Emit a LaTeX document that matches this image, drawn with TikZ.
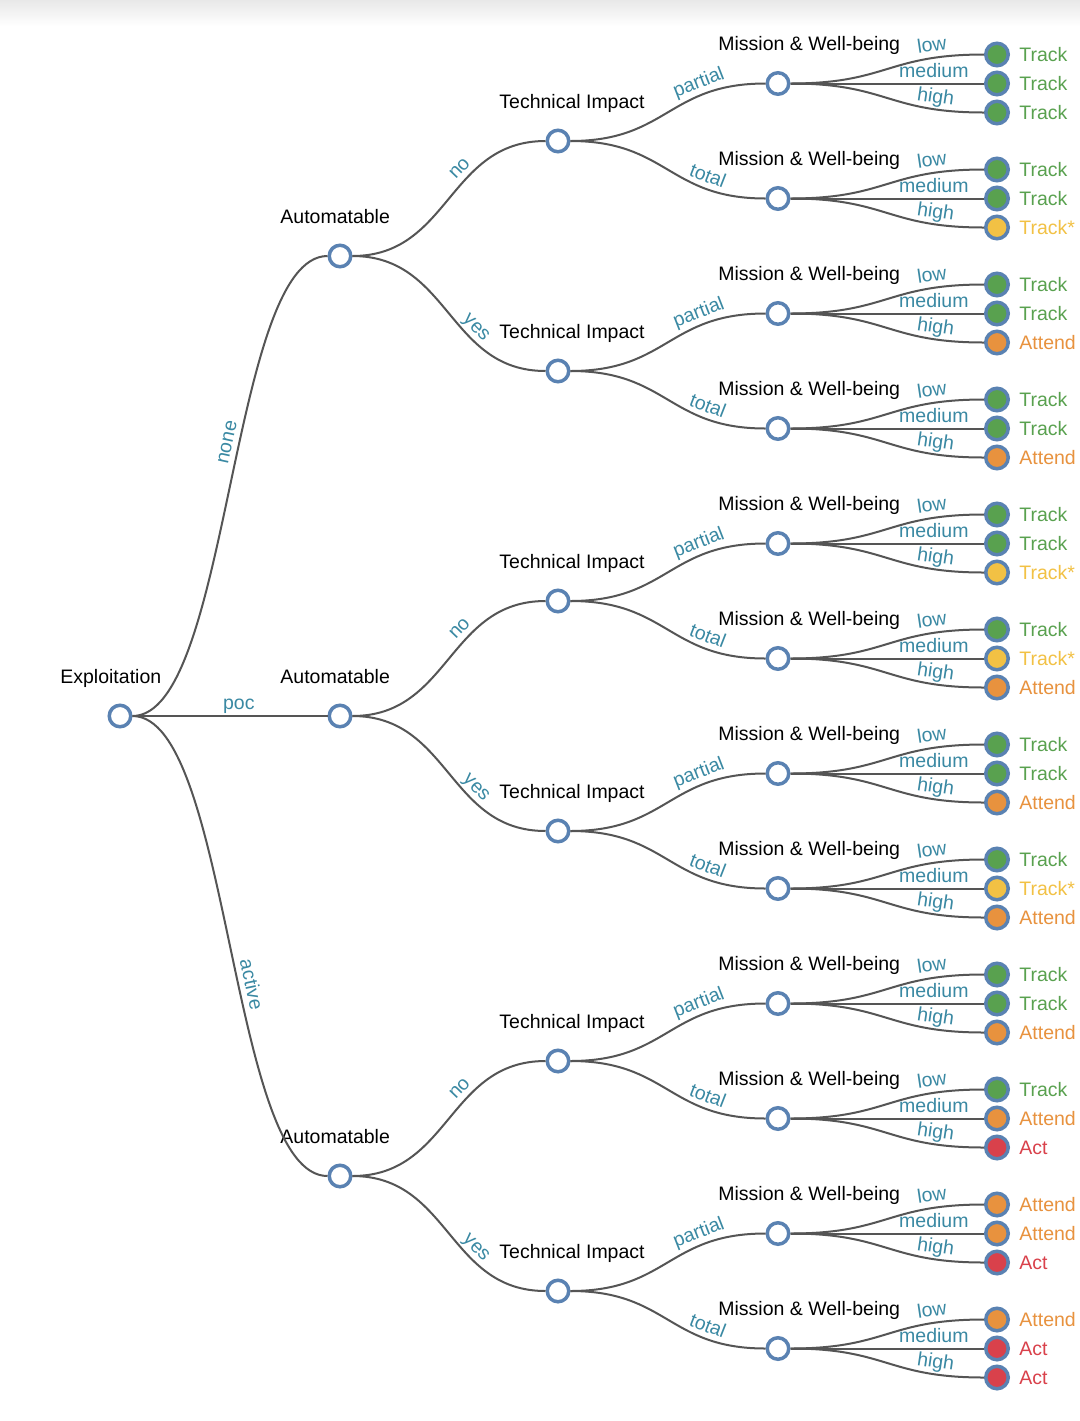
\documentclass[tikz,border=0pt]{standalone}
\usepackage{fontspec}
\setmainfont{Liberation Sans}
\definecolor{linkgray}{HTML}{555555}
\definecolor{nodeblue}{HTML}{5A82B2}
\definecolor{edgeteal}{HTML}{3A89A3}
\definecolor{ctrack}{HTML}{59A14F}
\definecolor{cstar}{HTML}{F2C144}
\definecolor{cattend}{HTML}{E8923E}
\definecolor{cact}{HTML}{D9414B}

\begin{document}
\begin{tikzpicture}[x=0.5pt,y=-0.5pt,
    font=\fontsize{9.75}{11.7}\selectfont,
    dot/.style={circle,draw=nodeblue,line width=1.75pt,minimum size=10.75pt,inner sep=0pt,fill=white},
    leaf/.style={dot,minimum size=11.25pt,fill=#1},
    link/.style={draw=linkgray,line width=1pt,out=0,in=180,out distance=48.75pt,in distance=48.75pt},
    elabel/.style={sloped,anchor=base,yshift=3.25pt,inner sep=0pt,text=edgeteal,pos=#1},
    ntext/.style={anchor=base west,inner sep=0pt},
    otext/.style={anchor=west,inner sep=0pt,text=#1}]
    \useasboundingbox (0,0) rectangle (1080,1421);
    \fill[white] (0,0) rectangle (1080,1421);
    \shade[top color=black!9,bottom color=white] (0,0) rectangle (1080,26);

    % root
    \node[dot] (root) at (120,716) {};
    \node[ntext] at (60,683) {Exploitation};

    % automatable
    \foreach \a/\ay/\lab in {1/256/none,2/716/poc,3/1176/active} {
        \node[dot] (a\a) at (340,\ay) {};
        \node[ntext] at (280,\ay-33) {Automatable};
        \draw[link] (root) to node[elabel=0.56] {\lab} (a\a);
    }

    % technical impact
    \foreach \lab [count=\i from 0] in {no,yes,no,yes,no,yes} {
        \pgfmathtruncatemacro\a{div(\i,2)+1}
        \pgfmathsetmacro\ty{141+230*\i}
        \node[dot] (t\i) at (558,\ty) {};
        \node[ntext] at (499,\ty-33) {Technical Impact};
        \draw[link] (a\a) to node[elabel=0.63] {\lab} (t\i);
    }

    % mission & well-being
    \foreach \lab [count=\i from 0] in {partial,total,partial,total,partial,total,
                                        partial,total,partial,total,partial,total} {
        \pgfmathtruncatemacro\t{div(\i,2)}
        \pgfmathsetmacro\my{83.5+115*\i}
        \node[dot] (m\i) at (778,\my) {};
        \node[ntext] at (718,\my-33) {Mission \& Well-being};
        \draw[link] (t\t) to node[elabel=0.725] {\lab} (m\i);
    }

    % outcomes
    \foreach \c/\o [count=\k from 0] in {
        ctrack/Track,ctrack/Track,ctrack/Track,
        ctrack/Track,ctrack/Track,cstar/Track*,
        ctrack/Track,ctrack/Track,cattend/Attend,
        ctrack/Track,ctrack/Track,cattend/Attend,
        ctrack/Track,ctrack/Track,cstar/Track*,
        ctrack/Track,cstar/Track*,cattend/Attend,
        ctrack/Track,ctrack/Track,cattend/Attend,
        ctrack/Track,cstar/Track*,cattend/Attend,
        ctrack/Track,ctrack/Track,cattend/Attend,
        ctrack/Track,cattend/Attend,cact/Act,
        cattend/Attend,cattend/Attend,cact/Act,
        cattend/Attend,cact/Act,cact/Act} {
        \pgfmathtruncatemacro\m{div(\k,3)}
        \pgfmathtruncatemacro\j{mod(\k,3)}
        \pgfmathsetmacro\ly{83.5+115*\m+29*(\j-1)}
        \ifcase\j \def\lv{low}\or \def\lv{medium}\or \def\lv{high}\fi
        \node[leaf=\c] (l\k) at (997,\ly) {};
        \node[otext=\c] at (1019,\ly) {\o};
        \draw[link] (m\m) to node[elabel=0.79] {\lv} (l\k);
    }
\end{tikzpicture}
\end{document}
